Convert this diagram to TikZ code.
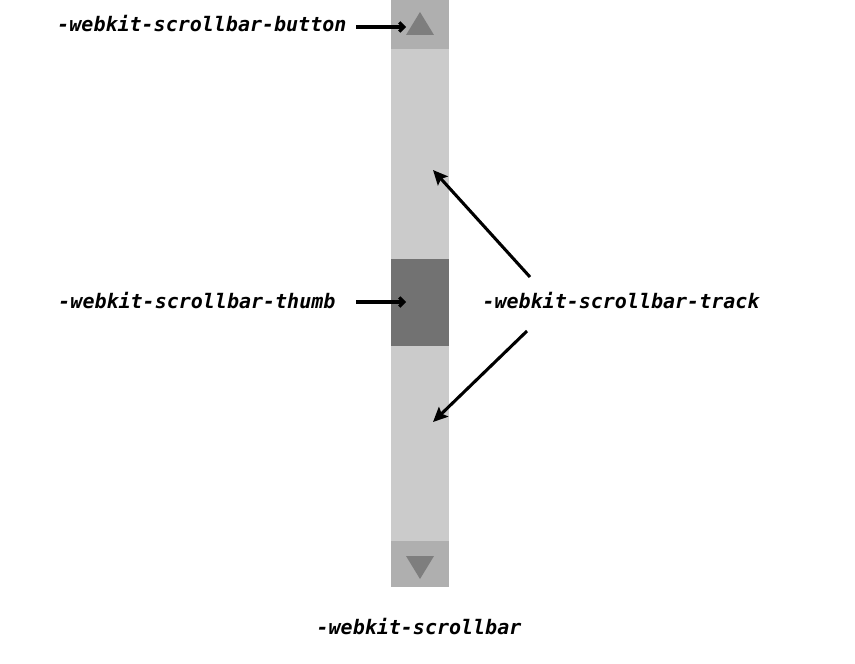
\documentclass[tikz,border=0pt]{standalone}
\usepackage{fontspec}
\setmonofont{DejaVu Sans Mono}
\usepackage{xcolor}
\usepackage{tikz}
\usetikzlibrary{positioning, arrows.meta, calc}

\definecolor{trackgray}{HTML}{CBCBCB}
\definecolor{buttongray}{HTML}{AFAFAF}
\definecolor{thumbgray}{HTML}{727272}
\definecolor{arrowgray}{HTML}{7E7E7E}

\begin{document}
\begin{tikzpicture}[x=0.75pt, y=-0.75pt,
    partlabel/.style={font=\fontsize{15}{18}\selectfont\ttfamily\bfseries\itshape, text=black, inner sep=4pt},
    pointer/.style={-{Stealth[length=11pt, width=10pt, inset=2pt]}, line width=2.3pt},
    smallpointer/.style={-{Straight Barb[length=3.5pt, width=7pt]}, line width=2.3pt}]
        \useasboundingbox (0, 0) rectangle (855, 663);

        % Scrollbar: track, buttons, thumb
        \fill[trackgray] (391, 0) rectangle (449, 587);
        \fill[buttongray] (391, 0) rectangle (449, 49);
        \fill[buttongray] (391, 541) rectangle (449, 587);
        \fill[thumbgray] (391, 259) rectangle (449, 346);
        \fill[arrowgray] (420, 12) -- (434, 35) -- (406, 35) -- cycle;
        \fill[arrowgray] (406, 556) -- (434, 556) -- (420, 579) -- cycle;

        % Arrow targets
        \coordinate (upbtn) at (406, 27);
        \coordinate (thumb) at (406, 302);
        \coordinate (trackup) at (433, 170);
        \coordinate (trackdown) at (433, 422);
        \coordinate (trackfromA) at (530, 277);
        \coordinate (trackfromB) at (527, 331);

        % Labels
        \node[partlabel, anchor=east] (buttonlbl) at (352, 24) {-webkit-scrollbar-button};
        \node[partlabel, anchor=east] (thumblbl) at (341, 301) {-webkit-scrollbar-thumb};
        \node[partlabel] (tracklbl) at (621, 301) {-webkit-scrollbar-track};
        \node[partlabel] (barlbl) at (419, 627) {-webkit-scrollbar};

        % Connectors
        \draw[smallpointer] (356, 27) -- (upbtn);
        \draw[smallpointer] (356, 302) -- (thumb);
        \draw[pointer] (trackfromA) -- (trackup);
        \draw[pointer] (trackfromB) -- (trackdown);
    \end{tikzpicture}
\end{document}
